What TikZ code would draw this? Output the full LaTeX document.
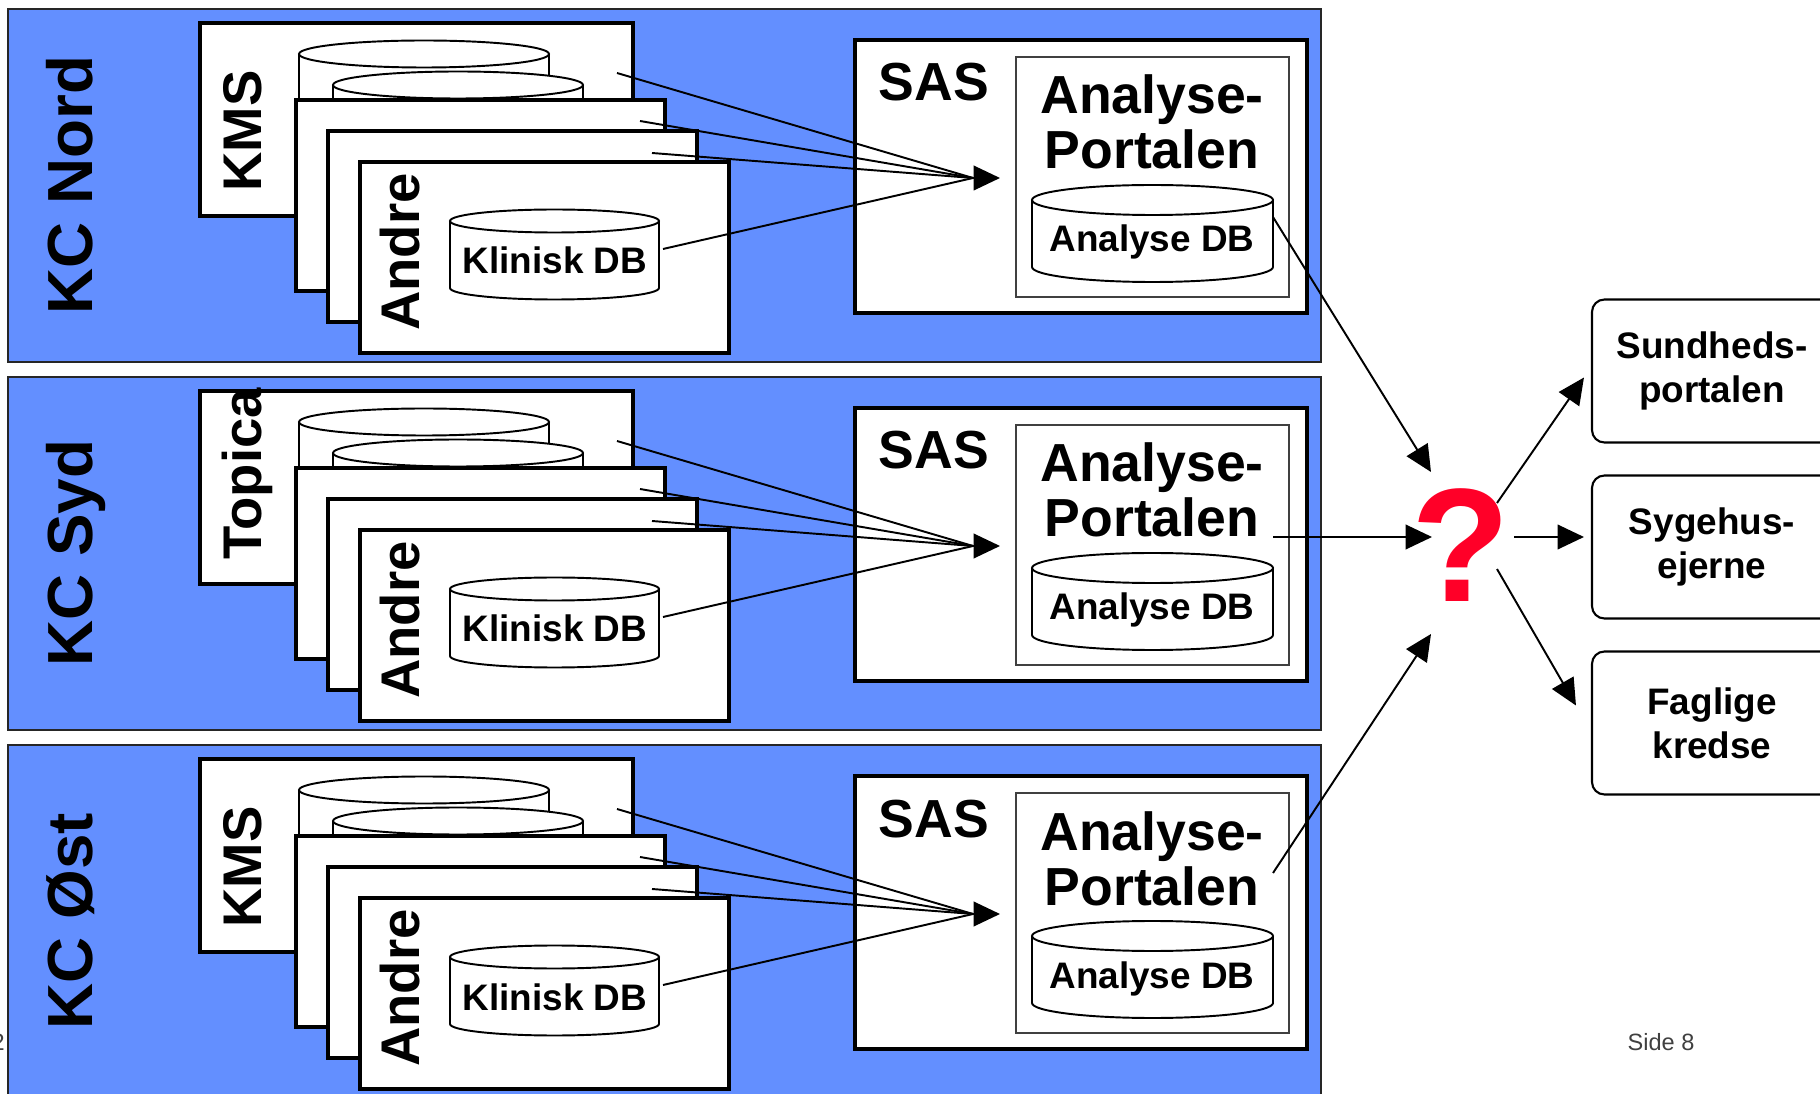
\documentclass[tikz,border=0pt]{standalone}
\usepackage{fontspec}
\setmainfont{Liberation Sans}
\usepackage{tikz}
\usetikzlibrary{calc,positioning,arrows.meta}

\definecolor{kcblue}{RGB}{99,143,255}
\definecolor{qred}{RGB}{255,0,40}

\tikzset{
  panel/.style={draw=black!85, line width=1.3pt, fill=kcblue},
  card/.style={draw=black, fill=white, line width=2.3pt},
  sasbox/.style={draw=black, fill=white, line width=2.8pt},
  portbox/.style={draw=black!75, fill=white, line width=1pt},
  dbline/.style={draw=black, fill=white, line width=1.1pt},
  feed/.style={line width=1.1pt},
  bigarrow/.style={line width=1.1pt, -{Triangle[length=15pt,width=14pt]}},
  kclabel/.style={rotate=90, anchor=base, font=\fontsize{36.3}{40}\selectfont\bfseries},
  syslabel/.style={rotate=90, anchor=base west, inner sep=0pt, font=\fontsize{31}{34}\selectfont\bfseries},
  bigtext/.style={anchor=base, font=\fontsize{30.5}{33}\selectfont\bfseries},
  dbtext/.style={anchor=base, font=\fontsize{21}{24}\selectfont\bfseries},
  target/.style={draw, rounded corners=7pt, line width=1.2pt, fill=white, align=center,
    minimum width=4.8cm, minimum height=2.86cm, font=\fontsize{21}{25}\selectfont\bfseries},
  foot/.style={anchor=base, text=black!75, font=\fontsize{13.4}{15}\selectfont},
}

% drum: left x, right x, top y, bottom y, y radius
\newcommand\dbdrum[5]{%
  \draw[dbline] (#1,#3) -- (#1,#4) arc[start angle=180, end angle=0, x radius={(#2-#1)/2}, y radius=#5] -- (#2,#3);
  \draw[dbline] ({(#1+#2)/2},#3) ellipse[x radius={(#2-#1)/2}, y radius=#5];}

\begin{document}
\begin{tikzpicture}[x=0.02cm, y=-0.02cm]
		\useasboundingbox (0,0) rectangle (1820,1094);
		\clip (0,0) rectangle (1820,1094);
		\fill[white] (0,0) rectangle (1820,1094);
		\node[foot, anchor=base east] (pg) at (11,1050) {2};
		\node[foot] (side) at (1661,1050) {Side 8};
		\foreach \i/\kc/\sys in {0/KC Nord/KMS, 1/KC Syd/Topica, 2/KC Øst/KMS}{
			\begin{scope}[shift={(0,368*\i)}]
				\draw[panel] (8,9) rectangle (1321,362);
				\node[kclabel] (kc\i) at (92,185) {\kc};
				\draw[card] (200,23) rectangle (633,216);
				\dbdrum{299}{549}{54}{110}{13.5}
				\dbdrum{333}{583}{85}{110}{13.5}
				\node[syslabel] (sys\i) at (261,192) {\sys};
				\draw[card] (296,100) rectangle (665,291);
				\draw[card] (328,131) rectangle (697,322);
				\draw[card] (360,162) rectangle (729,353);
				\node[syslabel] (andre\i) at (419,331) {Andre};
				\dbdrum{450}{659}{221}{288}{11.5}
				\node[dbtext] (kdb\i) at (555,274) {Klinisk DB};
				\draw[sasbox] (855,40) rectangle (1307,313);
				\node[bigtext] (sas\i) at (934,101) {SAS};
				\draw[portbox] (1016,57) rectangle (1289,297);
				\node[bigtext] (ap\i) at (1152,114) {Analyse-};
				\node[bigtext] (pt\i) at (1152,169) {Portalen};
				\dbdrum{1032}{1273}{200}{267}{15}
				\node[dbtext] (adb\i) at (1152,252) {Analyse DB};
				\coordinate (s1\i) at (617,73);
				\coordinate (s2\i) at (640,121);
				\coordinate (s3\i) at (652,153);
				\coordinate (s4\i) at (663,249);
				\coordinate (hub\i) at (973,178);
				\coordinate (in\i) at (1000,178);
				\path[feed]
					(s1\i) edge (hub\i)
					(s2\i) edge (hub\i)
					(s3\i) edge (hub\i)
					(s4\i) edge (hub\i);
				\draw[bigarrow] (hub\i) -- (in\i);
			\end{scope}
		}
		\node[text=qred, font=\fontsize{92}{95}\selectfont\bfseries] (q) at (1461,545) {?};
		\node[target] (sund) at (1712,371) {Sundheds-\\portalen};
		\node[target] (syge) at (1712,547) {Sygehus-\\ejerne};
		\node[target] (fag) at (1712,723) {Faglige\\kredse};
		\coordinate (o0) at (1273,217);
		\coordinate (o1) at (1273,537);
		\coordinate (o2) at (1273,873);
		\draw[bigarrow] (o0) -- ($(q)+(-30,-73)$);
		\draw[bigarrow] (o1) -- ($(q)+(-29,-8)$);
		\draw[bigarrow] (o2) -- ($(q)+(-30,89)$);
		\draw[bigarrow] ($(q)+(36,-42)$) -- ($(sund.west)+(-7,6.5)$);
		\draw[bigarrow] ($(q)+(53,-8)$) -- ($(syge.west)+(-7,-10)$);
		\draw[bigarrow] ($(q)+(36,24)$) -- ($(fag.west)+(-15,-17.5)$);
\end{tikzpicture}
\end{document}
